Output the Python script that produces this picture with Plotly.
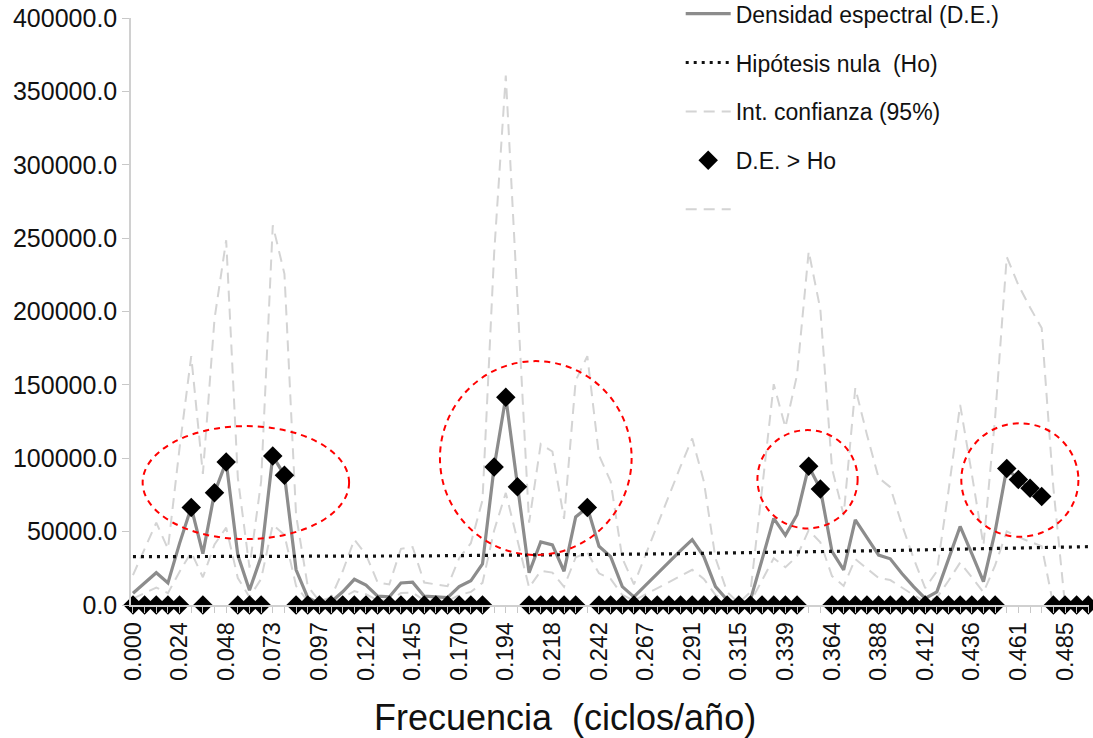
import plotly.graph_objects as go

# Frequency categories (ciclos/año), k/165
categories = ["0.000","0.006","0.012","0.018","0.024","0.030","0.036","0.042","0.048","0.055",
              "0.061","0.067","0.073","0.079","0.085","0.091","0.097","0.103","0.109","0.115",
              "0.121","0.127","0.133","0.139","0.145","0.152","0.158","0.164","0.170","0.176",
              "0.182","0.188","0.194","0.200","0.206","0.212","0.218","0.224","0.230","0.236",
              "0.242","0.248","0.255","0.261","0.267","0.273","0.279","0.285","0.291","0.297",
              "0.303","0.309","0.315","0.321","0.327","0.333","0.339","0.345","0.352","0.358",
              "0.364","0.370","0.376","0.382","0.388","0.394","0.400","0.406","0.412","0.418",
              "0.424","0.430","0.436","0.442","0.448","0.455","0.461","0.467","0.473","0.479",
              "0.485","0.491","0.497"]

tick_labels = ["0.000","0.024","0.048","0.073","0.097","0.121","0.145","0.170","0.194","0.218",
               "0.242","0.267","0.291","0.315","0.339","0.364","0.388","0.412","0.436","0.461","0.485"]

# Spectral density (D.E.)
densidad = [8000, 15000, 22000, 15000, 42000, 66500, 35000, 76500, 97500, 34000,
            10000, 33000, 101500, 88500, 24000, 5000, 1000, 2000, 9000, 17500,
            13500, 6000, 5500, 15000, 15500, 6000, 5500, 5000, 12500, 16500,
            28000, 94000, 141500, 80500, 22000, 43000, 41000, 23000, 60000, 66500,
            40000, 33000, 12500, 5500, 13500, 21000, 29000, 37000, 44500, 33000,
            12500, 3500, 500, 3500, 31000, 59000, 47500, 61500, 94500, 79000,
            36500, 24000, 58000, 45500, 34000, 31500, 21500, 12500, 4500, 9000,
            30500, 53500, 35000, 16000, 50000, 93000, 85500, 79500, 74000, None,
            None, None, None]

# Null hypothesis (Ho)
hipotesis = [32900, 32900, 32910, 32920, 32930, 32940, 32950, 32960, 32980, 33000,
             33020, 33040, 33060, 33080, 33100, 33130, 33160, 33190, 33220, 33250,
             33280, 33320, 33360, 33400, 33440, 33480, 33520, 33570, 33620, 33670,
             33720, 33780, 33840, 33900, 33960, 34020, 34090, 34160, 34230, 34300,
             34380, 34460, 34540, 34620, 34710, 34800, 34890, 34980, 35080, 35180,
             35280, 35390, 35500, 35610, 35720, 35840, 35960, 36080, 36200, 36330,
             36460, 36590, 36720, 36860, 37000, 37140, 37280, 37420, 37570, 37720,
             37870, 38020, 38170, 38320, 38470, 38620, 38780, 38940, 39100, 39260,
             39420, 39580, 39740]

# 95% confidence interval, upper
ic_superior = [20400, 38300, 56100, 38300, 107100, 169600, 89300, 195100, 248600, 86700,
               25500, 84200, 258800, 225700, 61200, 12800, 2600, 5100, 23000, 44600,
               34400, 15300, 14000, 38300, 39500, 15300, 14000, 12800, 31900, 42100,
               71400, 239700, 360800, 205300, 56100, 109700, 104600, 58700, 153000, 169600,
               102000, 84200, 31900, 14000, 34400, 53600, 74000, 94400, 113500, 84200,
               31900, 8900, 1300, 8900, 79100, 150500, 121100, 156800, 241000, 201500,
               93100, 61200, 147900, 116000, 86700, 80300, 54800, 31900, 11500, 23000,
               77800, 136400, 89300, 40800, 127500, 237200, 218000, 202700, 188700, 80000,
               0, None, None]

# 95% confidence interval, lower
ic_inferior = [4300, 8100, 11900, 8100, 22700, 35900, 18900, 41300, 52700, 18400,
               5400, 17800, 54800, 47800, 13000, 2700, 500, 1100, 4900, 9500,
               7300, 3200, 3000, 8100, 8400, 3200, 3000, 2700, 6800, 8900,
               15100, 50800, 76400, 43500, 11900, 23200, 22100, 12400, 32400, 35900,
               21600, 17800, 6800, 3000, 7300, 11300, 15700, 20000, 24000, 17800,
               6800, 1900, 300, 1900, 16700, 31900, 25700, 33200, 51000, 42700,
               19700, 13000, 31300, 24600, 18400, 17000, 11600, 6800, 2400, 4900,
               16500, 28900, 18900, 8600, 27000, 50200, 46200, 42900, 40000, 0,
               None, None, None]

# D.E. > Ho markers (0 where not significant)
de_mayor_ho = [0, 0, 0, 0, 0, 66500, 0, 76500, 97500, 0,
               0, 0, 101500, 88500, 0, 0, 0, 0, 0, 0,
               0, 0, 0, 0, 0, 0, 0, 0, 0, 0,
               0, 94000, 141500, 80500, 0, 0, 0, 0, 0, 66500,
               0, 0, 0, 0, 0, 0, 0, 0, 0, 0,
               0, 0, 0, 0, 0, 0, 0, 0, 94500, 79000,
               0, 0, 0, 0, 0, 0, 0, 0, 0, 0,
               0, 0, 0, 0, 0, 93000, 85500, 79500, 74000, 0,
               0, 0, 0]

# Highlight ellipses (category index range, value range)
ellipses = [(0.83, 18.55, 44900, 121900),
            (26.35, 42.8, 34100, 166200),
            (53.6, 62.2, 52200, 119200),
            (71.1, 81.15, 46500, 123800)]

x_title = "Frecuencia \u00a0(ciclos/año)"

font_family = "Liberation Sans, Arial, sans-serif"
ci_color = "#d4d4d4"

fig = go.Figure()

fig.add_trace(go.Scatter(x=categories, y=ic_superior, mode="lines", name="Int. confianza (95%)",
                         line=dict(color=ci_color, width=2, dash="11px,7px"),
                         legendgroup="g3", legendrank=3))
fig.add_trace(go.Scatter(x=categories, y=ic_inferior, mode="lines", name=" ",
                         line=dict(color=ci_color, width=2, dash="11px,7px"),
                         legendgroup="g5", legendrank=5))
fig.add_trace(go.Scatter(x=categories, y=densidad, mode="lines", name="Densidad espectral (D.E.)",
                         line=dict(color="#8c8c8c", width=3.2),
                         legendgroup="g1", legendrank=1))
fig.add_trace(go.Scatter(x=categories, y=hipotesis, mode="lines", name="Hipótesis nula  (Ho)",
                         line=dict(color="#111111", width=3.2, dash="3px,5px"),
                         legendgroup="g2", legendrank=2))
fig.add_trace(go.Scatter(x=categories, y=de_mayor_ho, mode="markers", name="D.E. > Ho",
                         marker=dict(symbol="diamond", size=15, color="#000000"),
                         cliponaxis=False, legendgroup="g4", legendrank=4))

for x0, x1, y0, y1 in ellipses:
    fig.add_shape(type="circle", xref="x", yref="y", x0=x0, x1=x1, y0=y0, y1=y1,
                  line=dict(color="#ff0000", width=2, dash="6px,5px"))

fig.add_annotation(text=x_title, xref="paper", yref="paper", x=0.453, y=-0.1925,
                   xanchor="center", yanchor="middle", showarrow=False,
                   font=dict(size=36, color="#111111"))

ticktext = [c if i % 4 == 0 else "" for i, c in enumerate(categories)]

fig.update_layout(
    width=1093, height=738,
    margin=dict(l=131, r=4, t=18, b=133, autoexpand=False),
    paper_bgcolor="white", plot_bgcolor="white",
    font=dict(family=font_family, size=25, color="#111111"),
    showlegend=True,
    legend=dict(yref="paper", x=0.5738, y=1.044,
                xanchor="left", yanchor="top", font=dict(size=23, color="#111111"),
                itemwidth=45, tracegroupgap=16, bgcolor="rgba(0,0,0,0)"),
    xaxis=dict(type="category", range=[-0.17, 82.06], tickmode="array",
               tickvals=categories, ticktext=ticktext, tickangle=-90,
               ticks="outside", ticklen=6, tickcolor="#c8c8c8",
               showline=True, linecolor="#d0d0d0", linewidth=1.5,
               showgrid=False, zeroline=False,
               tickfont=dict(size=23.5, color="#111111")),
    yaxis=dict(range=[0, 400000], tickmode="linear", tick0=0, dtick=50000,
               tickformat=".1f", ticks="outside", ticklen=7, tickcolor="#c8c8c8",
               showline=True, linecolor="#d0d0d0", linewidth=1.5,
               showgrid=False, zeroline=False,
               tickfont=dict(size=25, color="#111111")),
)

fig.write_html("out.html")
